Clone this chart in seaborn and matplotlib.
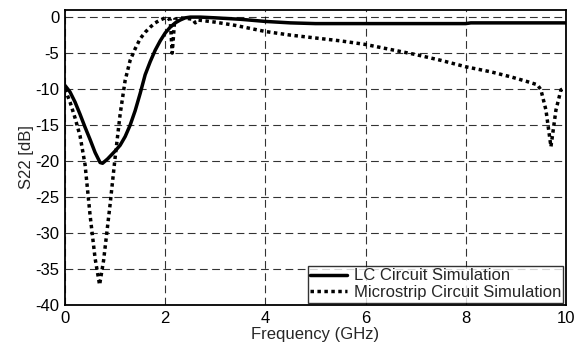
import matplotlib
matplotlib.use('Agg')
import matplotlib.pyplot as plt
import seaborn as sns

# LC circuit simulation (solid)
lc_freq = [0.0, 0.1, 0.2, 0.3, 0.4, 0.5, 0.6, 0.7, 0.75, 0.85, 1.0, 1.1, 1.2, 1.3,
           1.4, 1.5, 1.6, 1.7, 1.8, 1.9, 2.0, 2.1, 2.2, 2.3, 2.4, 2.5, 2.7, 3.0,
           3.5, 4.0, 4.5, 5.0, 6.0, 7.0, 8.0, 8.1, 9.0, 10.0]
lc_s22 = [-9.5, -10.4, -11.8, -13.5, -15.3, -17.0, -18.8, -20.2, -20.3, -19.7, -18.6,
          -17.8, -16.6, -15.0, -13.0, -10.6, -8.0, -6.2, -4.6, -3.3, -2.2, -1.4, -0.8,
          -0.4, -0.1, 0.0, 0.0, -0.1, -0.3, -0.6, -0.8, -0.9, -0.9, -0.9, -0.9, -0.8,
          -0.8, -0.8]

# Microstrip circuit simulation (dotted)
ms_freq = [0.0, 0.1, 0.2, 0.3, 0.4, 0.5, 0.6, 0.69, 0.77, 0.9, 1.0, 1.1, 1.2, 1.3,
           1.4, 1.5, 1.6, 1.7, 1.8, 1.9, 2.0, 2.05, 2.1, 2.14, 2.19, 2.3, 2.45, 2.55,
           2.6, 2.65, 3.0, 3.4, 4.0, 4.5, 5.0, 5.5, 6.0, 6.5, 7.0, 7.5, 8.0, 8.5, 8.9,
           9.2, 9.43, 9.5, 9.6, 9.7, 9.8, 9.9, 9.93]
ms_s22 = [-10.0, -11.8, -14.0, -16.5, -20.5, -27.5, -33.5, -37.2, -33.8, -26.0, -19.5,
          -13.5, -8.8, -6.0, -4.4, -3.0, -2.1, -1.4, -0.8, -0.4, -0.1, -0.15, -0.4,
          -5.0, -0.3, -0.1, -0.2, -0.3, -0.8, -0.4, -0.7, -1.15, -2.0, -2.5, -2.9,
          -3.3, -3.8, -4.5, -5.2, -6.0, -6.9, -7.6, -8.3, -8.9, -9.4, -10.1, -12.9,
          -18.0, -12.9, -10.1, -10.0]

sns.set_style('white')
plt.rcParams['font.family'] = ['Liberation Sans', 'DejaVu Sans']
plt.rcParams['axes.unicode_minus'] = False

fig = plt.figure(figsize=(5.79, 3.42), dpi=100)
ax = fig.add_axes([0.1123, 0.108, 0.8652, 0.863])

sns.lineplot(x=lc_freq, y=lc_s22, ax=ax, color='black', linewidth=2.5,
             label='LC Circuit Simulation')
sns.lineplot(x=ms_freq, y=ms_s22, ax=ax, color='black', linewidth=2.5,
             linestyle=(0, (1, 1)), label='Microstrip Circuit Simulation')

ax.set_xlim(0, 10)
ax.set_ylim(-40, 1)
ax.set_xticks(range(0, 11, 2))
ax.set_yticks(range(-40, 1, 5))
ax.grid(True, color='black', linestyle=(0, (7, 4)), linewidth=0.8, alpha=0.8)
ax.tick_params(direction='in', length=3, labelsize=12, colors='black', pad=4)
for sp in ax.spines.values():
    sp.set_color('black')
    sp.set_linewidth(1.3)

ax.set_xlabel('Frequency (GHz)', fontsize=12, labelpad=1)
ax.set_ylabel('S22 [dB]', fontsize=12, labelpad=1)

leg = ax.legend(loc='lower right', fontsize=12, frameon=True, fancybox=False,
                borderpad=0.15, handlelength=2.2, handletextpad=0.4,
                labelspacing=0.1, borderaxespad=0.15)
leg.get_frame().set_edgecolor('black')
leg.get_frame().set_linewidth(1.0)

fig.savefig('out.png', dpi=100)
